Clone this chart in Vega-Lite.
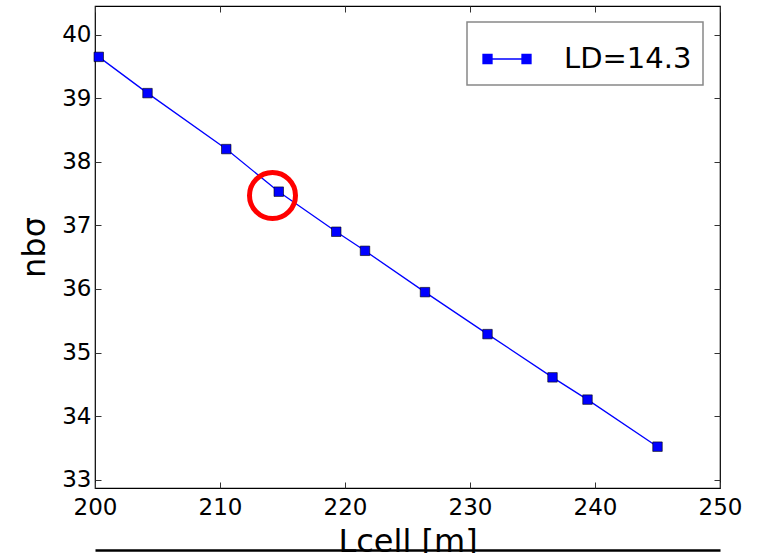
{
  "$schema": "https://vega.github.io/schema/vega-lite/v6.json",
  "width": 625,
  "height": 482,
  "autosize": {"type": "none"},
  "padding": {"left": 95, "top": 6, "right": 38, "bottom": 65},
  "background": "white",
  "config": {
    "font": "DejaVu Sans",
    "view": {"stroke": "black", "strokeWidth": 1.2},
    "axis": {
      "labelFont": "DejaVu Sans",
      "titleFont": "DejaVu Sans",
      "labelFontSize": 23,
      "titleFontSize": 32,
      "titleFontWeight": "normal",
      "labelColor": "black",
      "titleColor": "black",
      "tickColor": "#333",
      "tickSize": -6,
      "domain": false,
      "grid": false
    }
  },
  "datasets": {
    "pts": [
      {"Lcell": 200.3, "nb": 39.65, "series": "LD=14.3"},
      {"Lcell": 204.2, "nb": 39.08, "series": "LD=14.3"},
      {"Lcell": 210.5, "nb": 38.2, "series": "LD=14.3"},
      {"Lcell": 214.7, "nb": 37.53, "series": "LD=14.3"},
      {"Lcell": 219.3, "nb": 36.9, "series": "LD=14.3"},
      {"Lcell": 221.6, "nb": 36.6, "series": "LD=14.3"},
      {"Lcell": 226.4, "nb": 35.95, "series": "LD=14.3"},
      {"Lcell": 231.4, "nb": 35.29, "series": "LD=14.3"},
      {"Lcell": 236.6, "nb": 34.61, "series": "LD=14.3"},
      {"Lcell": 239.4, "nb": 34.26, "series": "LD=14.3"},
      {"Lcell": 245.0, "nb": 33.52, "series": "LD=14.3"}
    ],
    "mark": [{"Lcell": 214.2, "nb": 37.47}]
  },
  "resolve": {"axis": {"x": "independent", "y": "independent"}},
  "layer": [
    {
      "data": {"name": "pts"},
      "mark": {"type": "line", "color": "#0000ff", "strokeWidth": 1.3},
      "encoding": {
        "x": {"field": "Lcell", "type": "quantitative",
              "scale": {"domain": [200, 250], "nice": false, "zero": false},
              "axis": {"title": "Lcell [m]", "values": [200, 210, 220, 230, 240, 250], "labelPadding": 14, "titlePadding": 7, "labelFlush": false}},
        "y": {"field": "nb", "type": "quantitative",
              "scale": {"domain": [32.87, 40.45], "nice": false, "zero": false},
              "axis": {"title": "nbσ", "values": [33, 34, 35, 36, 37, 38, 39, 40], "labelPadding": 10, "titlePadding": 10, "labelFlush": false}}
      }
    },
    {
      "data": {"name": "pts"},
      "mark": {"type": "point", "shape": "square", "filled": true, "size": 90, "stroke": "black", "strokeWidth": 0.6, "opacity": 1},
      "encoding": {
        "x": {"field": "Lcell", "type": "quantitative",
              "axis": {"orient": "top", "title": null, "labels": false, "values": [200, 210, 220, 230, 240, 250]}},
        "y": {"field": "nb", "type": "quantitative",
              "axis": {"orient": "right", "title": null, "labels": false, "values": [33, 34, 35, 36, 37, 38, 39, 40]}},
        "color": {"field": "series", "type": "nominal",
                  "scale": {"range": ["#0000ff"]},
                  "legend": {
                    "title": null,
                    "orient": "none",
                    "legendX": 372,
                    "legendY": 16,
                    "strokeColor": "#888",
                    "fillColor": "white",
                    "padding": 11,
                    "cornerRadius": 0,
                    "symbolType": "M-0.84,-0.18H-0.48V0.18H-0.84Z M0.72,-0.18H1.08V0.18H0.72Z M-0.48,0H0.72",
                    "symbolSize": 2500,
                    "symbolFillColor": "#0000ff",
                    "symbolStrokeColor": "#0000ff",
                    "symbolStrokeWidth": 1.3,
                    "symbolOpacity": 1,
                    "labelFont": "DejaVu Sans",
                    "labelFontSize": 29,
                    "labelColor": "black",
                    "labelOffset": 34,
                    "labelLimit": 300,
                    "encode": {"legend": {"update": {"strokeWidth": {"value": 1.5}}}}
                  }}
      }
    },
    {
      "data": {"name": "mark"},
      "mark": {"type": "point", "shape": "circle", "filled": false, "size": 2116, "stroke": "#ff0000", "strokeWidth": 5, "opacity": 1},
      "encoding": {
        "x": {"field": "Lcell", "type": "quantitative",
              "axis": {"orient": "bottom", "title": null, "labels": false, "ticks": false, "domain": true, "domainColor": "black", "domainWidth": 2.5, "offset": 62}},
        "y": {"field": "nb", "type": "quantitative", "axis": null}
      }
    }
  ]
}
